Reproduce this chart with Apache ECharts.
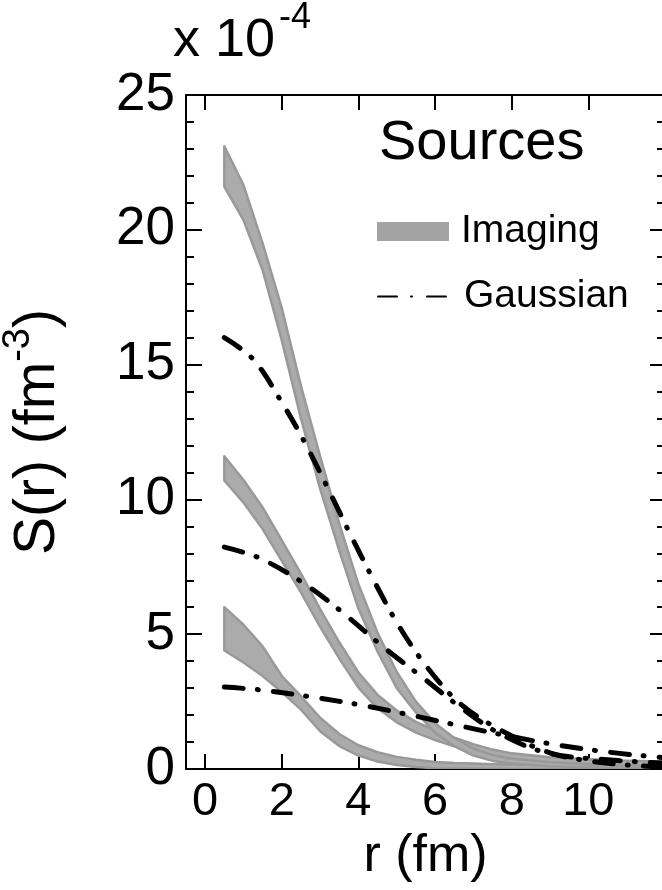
<!DOCTYPE html>
<html>
<head>
<meta charset="utf-8">
<script src="https://cdn.jsdelivr.net/npm/echarts@6/dist/echarts.min.js"></script>
<style>
  html, body { margin: 0; padding: 0; background: #fff; }
  #chart { width: 662px; height: 890px; }
</style>
</head>
<body>
<div id="chart"></div>
<script>
// r grid of the imaging bands (fm)
const rImg = [0.5, 1, 1.5, 2, 2.5, 3, 3.5, 4, 4.5, 5, 5.5, 6, 6.5, 7, 7.5, 8, 9, 10, 11, 12]
// imaging bands, lower / upper edge (x 10^-4 fm^-3)
const img1Lo = [21.6, 20.36, 18.5, 15.9, 13.0, 10.4, 8.1, 5.95, 4.35, 3.0, 2.1, 1.35, 0.85, 0.5, 0.3, 0.2, 0.1, 0.06, 0.04, 0.03]
const img1Hi = [23.1, 21.66, 19.5, 17.1, 14.2, 11.6, 9.1, 6.85, 5.05, 3.6, 2.5, 1.7, 1.15, 0.75, 0.52, 0.38, 0.25, 0.18, 0.14, 0.12]
const img2Lo = [10.7, 9.88, 8.9, 7.72, 6.55, 5.27, 4.1, 3.02, 2.25, 1.73, 1.35, 1.07, 0.84, 0.64, 0.48, 0.34, 0.2, 0.12, 0.08, 0.06]
const img2Hi = [11.6, 10.72, 9.7, 8.48, 7.25, 5.93, 4.7, 3.58, 2.75, 2.17, 1.75, 1.43, 1.16, 0.92, 0.72, 0.58, 0.44, 0.36, 0.31, 0.28]
const img3Lo = [4.4, 3.95, 3.45, 2.85, 2.2, 1.4, 0.85, 0.5, 0.28, 0.15, 0.07, 0.03, 0.02, 0.01, 0.01, 0, 0, 0, 0, 0]
const img3Hi = [6.0, 5.35, 4.55, 3.45, 2.7, 1.9, 1.3, 0.88, 0.62, 0.45, 0.34, 0.26, 0.22, 0.2, 0.18, 0.17, 0.15, 0.15, 0.15, 0.15]

// gaussian sources
const g1R = [0.5, 1.25, 2.0, 2.64, 3.24, 3.81, 4.41, 5.04, 5.79, 6.7, 7.9, 9.0, 10.0, 11.0, 12.0]
const g1V = [16.0, 15.2, 13.6, 12.0, 10.3, 8.64, 6.97, 5.34, 3.78, 2.37, 1.3, 0.6, 0.3, 0.15, 0.07]
const g2R = [0.5, 1.41, 2.56, 3.6, 4.62, 5.66, 6.7, 7.7, 8.92, 10.4, 12.0]
const g2V = [8.23, 7.83, 6.9, 5.79, 4.56, 3.41, 2.25, 1.3, 0.6, 0.35, 0.22]
const g3R = [0.5, 1.46, 2.79, 4.07, 5.37, 6.65, 7.93, 9.2, 10.5, 11.8, 12.0]
const g3V = [3.04, 2.93, 2.67, 2.37, 2.0, 1.6, 1.22, 0.89, 0.63, 0.44, 0.42]

const xTicks = [0, 2, 4, 6, 8, 10, 12]
const xLabels = [0, 2, 4, 6, 8, 10]

const FONT = '"Liberation Sans", Arial, Helvetica, sans-serif'
const BAND_FILL = '#ababab'
const BAND_EDGE = '#999999'

function pairs(xs, ys) {
  return xs.map((x, i) => [x, ys[i]])
}

// band between lo and hi drawn as one polygon through the grid's scales
function band(lo, hi) {
  return {
    name: 'Imaging',
    type: 'custom',
    clip: true,
    itemStyle: { color: '#a3a3a3' },
    data: rImg.map((r, i) => [r, lo[i], hi[i]]),
    encode: { x: 0, y: [1, 2] },
    renderItem(params, api) {
      if (params.dataIndex !== 0) return
      const top = rImg.map((r, i) => api.coord([r, hi[i]]))
      const bot = rImg.map((r, i) => api.coord([r, lo[i]])).reverse()
      return {
        type: 'polygon',
        shape: { points: top.concat(bot) },
        style: { fill: BAND_FILL, stroke: BAND_EDGE, lineWidth: 2.5, lineJoin: 'round' }
      }
    },
    z: 2
  }
}

function gauss(xs, ys) {
  return {
    name: 'Gaussian',
    type: 'line',
    symbol: 'none',
    smooth: 0.35,
    data: pairs(xs, ys),
    itemStyle: { color: '#000' },
    lineStyle: { color: '#000', width: 5, type: [19, 14, 1, 15], cap: 'round' },
    z: 3
  }
}

const axisLine = { show: true, onZero: false, lineStyle: { color: '#000', width: 2 } }

const chart = echarts.init(document.getElementById('chart'))

chart.setOption({
  backgroundColor: '#fff',
  animation: false,
  textStyle: { fontFamily: FONT, color: '#000' },
  title: {
    text: 'Sources',
    left: 379,
    top: 116,
    padding: 0,
    textStyle: { fontSize: 56, fontWeight: 'normal', color: '#000', fontFamily: FONT }
  },
  graphic: [
    { type: 'text', left: 173, top: 14, style: { text: 'x 10', font: '54px ' + FONT, fill: '#000' } },
    { type: 'text', left: 279, top: 0, style: { text: '-4', font: '36px ' + FONT, fill: '#000' } }
  ],
  legend: [{
    data: [{ name: 'Imaging', icon: 'rect' }],
    left: 377,
    top: 212,
    padding: 0,
    itemWidth: 72,
    itemHeight: 19,
    textStyle: { fontSize: 39, color: '#000', fontFamily: FONT, padding: [0, 0, 0, 7] }
  }, {
    data: ['Gaussian'],
    left: 377,
    top: 277,
    padding: 0,
    itemWidth: 81,
    itemHeight: 19,
    itemStyle: { color: 'rgba(0,0,0,0)' },
    textStyle: { fontSize: 39, color: '#000', fontFamily: FONT }
  }],
  grid: { left: 186, top: 95, width: 479, height: 674, outerBoundsMode: 'none', containLabel: false },
  xAxis: [{
    type: 'value',
    position: 'bottom',
    min: -0.5,
    max: 12,
    axisLine: axisLine,
    axisTick: { show: true, inside: true, length: 15, customValues: xTicks, lineStyle: { color: '#000', width: 2 } },
    axisLabel: { show: true, customValues: xLabels, fontSize: 47, color: '#000', margin: 10, fontFamily: FONT },
    splitLine: { show: false },
    name: 'r (fm)',
    nameLocation: 'middle',
    nameGap: 59,
    nameTextStyle: { fontSize: 52, color: '#000', fontFamily: FONT }
  }, {
    type: 'value',
    position: 'top',
    min: -0.5,
    max: 12,
    axisLine: axisLine,
    axisTick: { show: true, inside: true, length: 15, customValues: xTicks, lineStyle: { color: '#000', width: 2 } },
    axisLabel: { show: false },
    splitLine: { show: false }
  }],
  yAxis: [{
    type: 'value',
    position: 'left',
    min: 0,
    max: 25,
    interval: 5,
    axisLine: axisLine,
    axisTick: { show: true, inside: true, length: 16, lineStyle: { color: '#000', width: 2 } },
    minorTick: { show: true, splitNumber: 5, length: 8, lineStyle: { color: '#000', width: 2 } },
    axisLabel: { show: true, fontSize: 53, color: '#000', margin: 11, fontFamily: FONT },
    splitLine: { show: false },
    name: '{a|S(r) (fm}{b|-3}{a|)}',
    nameLocation: 'middle',
    nameGap: 110,
    nameTextStyle: {
      rich: {
        a: { fontSize: 57, lineHeight: 76, color: '#000', fontFamily: FONT },
        b: { fontSize: 38, verticalAlign: 'top', color: '#000', fontFamily: FONT }
      }
    }
  }, {
    type: 'value',
    position: 'right',
    min: 0,
    max: 25,
    interval: 5,
    axisLine: axisLine,
    axisTick: { show: true, inside: true, length: 15, lineStyle: { color: '#000', width: 2 } },
    minorTick: { show: true, splitNumber: 5, length: 8, lineStyle: { color: '#000', width: 2 } },
    axisLabel: { show: false },
    splitLine: { show: false }
  }],
  series: [
    band(img3Lo, img3Hi),
    band(img2Lo, img2Hi),
    band(img1Lo, img1Hi),
    gauss(g1R, g1V),
    gauss(g2R, g2V),
    gauss(g3R, g3V)
  ]
})
</script>
</body>
</html>
